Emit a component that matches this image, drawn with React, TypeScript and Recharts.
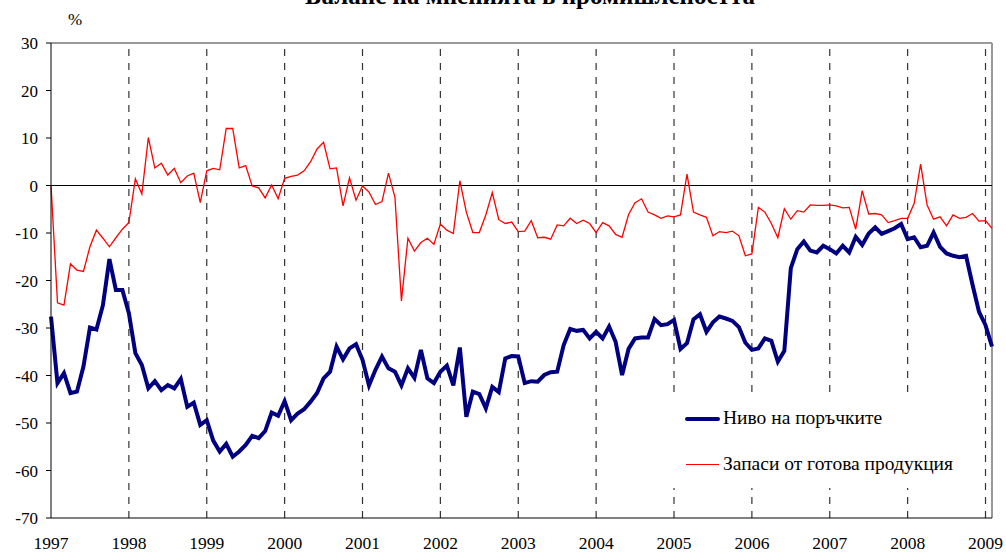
import React from 'react';
import { LineChart, Line, XAxis, YAxis, ReferenceLine } from 'recharts';

// Месечни данни, януари 1997 - февруари 2009
const years = ['1997', '1998', '1999', '2000', '2001', '2002', '2003', '2004', '2005', '2006', '2007', '2008', '2009'];

const orders = [
  -27.6, -41.6, -39.5, -43.7, -43.4, -38.1, -29.9, -30.3, -25.2, -15.5, -22.0, -22.0,
  -26.9, -35.3, -37.8, -42.7, -41.2, -43.1, -42.0, -42.7, -40.7, -46.6, -45.7, -50.4,
  -49.4, -53.7, -56.0, -54.4, -57.1, -56.0, -54.6, -52.7, -53.2, -51.7, -47.8, -48.5,
  -45.4, -49.4, -48.0, -47.1, -45.5, -43.7, -40.6, -39.2, -33.9, -36.6, -34.3, -33.4,
  -36.7, -42.1, -38.8, -36.0, -38.5, -39.2, -42.1, -38.5, -40.5, -34.6, -40.6, -41.6,
  -39.2, -37.9, -42.1, -34.1, -48.7, -43.4, -43.9, -46.9, -42.4, -43.5, -36.4, -35.9,
  -36.0, -41.6, -41.2, -41.3, -39.9, -39.3, -39.2, -33.6, -30.2, -30.6, -30.4, -32.2,
  -30.8, -32.2, -29.7, -32.9, -39.9, -34.4, -32.2, -32.0, -32.0, -28.1, -29.4, -29.2,
  -28.3, -34.4, -33.2, -28.2, -27.1, -30.8, -28.8, -27.6, -28.0, -28.5, -29.8, -33.1,
  -34.6, -34.3, -32.2, -32.7, -37.1, -34.8, -17.4, -13.4, -11.8, -13.7, -14.1, -12.7,
  -13.4, -14.3, -12.7, -14.1, -10.8, -12.5, -10.1, -8.8, -10.2, -9.6, -9.0, -8.1,
  -11.3, -10.9, -13.0, -12.7, -9.9, -12.9, -14.3, -14.8, -15.1, -14.8, -20.9, -26.6,
  -29.4, -33.9,
];

const stocks = [
  0.1, -24.7, -25.2, -16.5, -17.8, -18.1, -12.9, -9.4, -11.1, -12.9, -11.0, -9.2,
  -7.8, 1.4, -1.8, 10.1, 3.7, 4.7, 2.2, 3.6, 0.6, 2.0, 2.6, -3.6,
  3.1, 3.6, 3.3, 12.0, 12.0, 3.7, 4.2, -0.1, -0.5, -2.6, 0.1, -2.8,
  1.5, 1.9, 2.2, 3.1, 5.0, 7.7, 9.1, 3.5, 3.7, -4.3, 1.6, -3.1,
  -0.1, -1.4, -4.0, -3.4, 2.6, -2.5, -24.3, -11.1, -13.8, -12.0, -11.1, -12.4,
  -8.1, -9.4, -10.1, 1.0, -5.6, -9.9, -9.9, -6.2, -1.5, -7.2, -8.0, -7.7,
  -9.7, -9.6, -7.4, -11.0, -10.9, -11.3, -8.3, -8.5, -6.9, -8.0, -7.3, -8.0,
  -9.9, -7.8, -8.5, -10.3, -10.9, -6.1, -3.6, -2.8, -5.6, -6.2, -6.9, -6.4,
  -6.6, -6.2, 2.4, -5.6, -6.2, -6.7, -10.6, -9.7, -9.9, -9.6, -10.6, -14.8,
  -14.4, -4.6, -5.6, -8.0, -11.0, -4.9, -7.1, -5.3, -5.6, -4.1, -4.2, -4.2,
  -4.1, -4.3, -4.7, -4.6, -9.2, -1.1, -6.0, -5.9, -6.2, -7.8, -7.4, -6.9,
  -6.9, -3.8, 4.5, -4.1, -7.1, -6.6, -8.5, -6.2, -6.9, -6.7, -5.9, -7.5,
  -7.4, -9.0,
];

const valueTicks = [30, 20, 10, 0, -10, -20, -30, -40, -50, -60, -70];

const data = orders.map((v, i) => ({ m: i, orders: v, stocks: stocks[i] }));
const yearTicks = years.map((_, k) => k * 12);
const lastMonth = orders.length - 1;

const font = "'Liberation Serif', 'Times New Roman', 'DejaVu Serif', serif";

const App = () => {
  return (
    <div style={{ position: 'absolute', left: 0, top: 0, width: 1006, height: 554, background: '#fff', fontFamily: font, overflow: 'hidden' }}>
      {/* заглавие, отрязано горе както в оригинала */}
      <div style={{ position: 'absolute', left: 0, width: 1060, top: -18, textAlign: 'center', fontSize: 25, fontWeight: 'bold', whiteSpace: 'nowrap' }}>
        Баланс на мненията в промишлеността
      </div>
      <div style={{ position: 'absolute', left: 68, top: 10, fontSize: 17 }}>%</div>

      <LineChart
        width={1006}
        height={554}
        data={data}
        margin={{ top: 43, right: 14, bottom: 0, left: 0 }}
        style={{ fontFamily: font }}
      >
        <XAxis
          dataKey="m"
          type="number"
          domain={[0, lastMonth]}
          ticks={yearTicks}
          interval={0}
          tickFormatter={(v: number) => years[v / 12]}
          height={36}
          tickSize={0}
          tickMargin={19}
          axisLine={{ stroke: '#000' }}
          tick={{ fill: '#000', fontSize: 17.5, fontFamily: font }}
        />
        <YAxis
          type="number"
          domain={[-70, 30]}
          ticks={valueTicks}
          interval={0}
          width={51}
          tickSize={5}
          tickMargin={8}
          axisLine={{ stroke: '#000' }}
          tickLine={{ stroke: '#000' }}
          tick={{ fill: '#000', fontSize: 17, fontFamily: font }}
        />
        {/* рамка на графиката */}
        <ReferenceLine y={30} stroke="#999" strokeWidth={2} />
        <ReferenceLine x={lastMonth} stroke="#999" strokeWidth={2} />
        {/* прекъснати линии по години */}
        {yearTicks.slice(1).map((t) => (
          <ReferenceLine key={t} x={t} stroke="#333" strokeWidth={1.2} strokeDasharray="7 7" />
        ))}
        <ReferenceLine y={0} stroke="#000" />
        <Line type="linear" dataKey="stocks" stroke="#ff0000" strokeWidth={1.3} dot={false} isAnimationActive={false} />
        <Line type="linear" dataKey="orders" stroke="#000080" strokeWidth={4} dot={false} isAnimationActive={false} />
      </LineChart>

      {/* легенда с бял фон */}
      <div style={{ position: 'absolute', left: 668, top: 397, width: 312, height: 91, background: '#fff', fontSize: 19.5 }}>
        <div style={{ position: 'absolute', left: 17, top: 20, width: 35, height: 4, background: '#000080', borderRadius: 2 }} />
        <div style={{ position: 'absolute', left: 55, top: 10, whiteSpace: 'nowrap' }}>Ниво на поръчките</div>
        <div style={{ position: 'absolute', left: 18, top: 67, width: 33, height: 1, background: '#ff0000' }} />
        <div style={{ position: 'absolute', left: 55, top: 56, whiteSpace: 'nowrap' }}>Запаси от готова продукция</div>
      </div>
    </div>
  );
};

export default App;
